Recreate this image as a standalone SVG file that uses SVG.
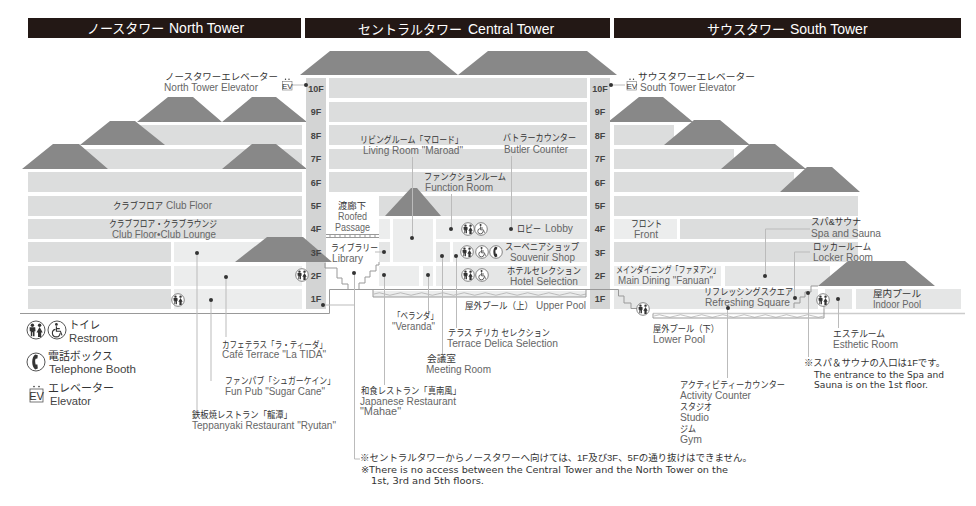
<svg xmlns="http://www.w3.org/2000/svg" xmlns:xlink="http://www.w3.org/1999/xlink" width="976" height="506" viewBox="0 0 976 506">
<style>
text{font-family:"Liberation Sans","Noto Sans CJK JP",sans-serif;font-size:10px}
.j{fill:#333;font-size:9.500px}
.e{fill:#666}
.h{fill:#fff;font-size:14px}
.hj{font-size:13px}
.f{fill:#444;font-size:9px;font-weight:bold;text-anchor:middle}
.lg{fill:#333;font-size:11px}
.lge{fill:#444;font-size:11.500px}
.n{fill:#333;font-size:9.500px}
.ne{fill:#333;font-size:9px;font-family:"DejaVu Sans",sans-serif}
.r{fill:#dcdddd}
.l{fill:#eceded}
.m{fill:#e5e6e6}
.c{fill:#d3d4d4}
.roof{fill:#888}
.lead{fill:none;stroke:#bbb;stroke-width:1}
.struct{fill:none;stroke:#999;stroke-width:1}
.dot{fill:#333}
</style>
<defs>
<g id="wc"><circle r="9" fill="#fff" stroke="#555" stroke-width="1"/><circle cx="-3.600" cy="-4.800" r="1.700" fill="#333"/><path d="M-6.400-2.800h5.600l.3 4-1 0v5h-1.500v-4h-.7v4h-1.500v-5l-1 0z" fill="#333"/><circle cx="3.600" cy="-4.800" r="1.700" fill="#333"/><path d="M3.600-3 6.700 2.400H5.200V7H2V2.400H.5z" fill="#333"/></g>
<g id="ac"><circle r="9" fill="#fff" stroke="#555" stroke-width="1"/><circle cx="-.6" cy="-5.600" r="1.400" fill="#333"/><path d="M-.6-3.800V1.200H3.400L5 5.400M-1.600-.6A3.800 3.800 0 1 0 3 3.200M-.6-1.400H2.800" fill="none" stroke="#333" stroke-width="1.100"/></g>
<g id="tel"><circle r="9" fill="#fff" stroke="#555" stroke-width="1"/><path d="M-.8-7.400C-4.800-5-4.800 5-.8 7.400L1.800 6.600 1.400 2.600-.4 2.400C-1-.8-1-1.800-.4-3.200L1.400-3.400 1.800-6.800z" fill="#333"/></g>
<g id="ev"><rect x="0" y="0" width="13" height="13" fill="#fff" stroke="#555" stroke-width=".8"/><text x="6.500" y="10.500" text-anchor="middle" style="font-size:11px;fill:#333">EV</text><circle cx="4" cy="-2.400" r=".8" fill="#333"/><circle cx="9" cy="-2.400" r=".8" fill="#333"/></g>
<g id="evs"><rect x="0" y="0" width="9.500" height="8.500" fill="#fff" stroke="#777" stroke-width=".6"/><text x="4.750" y="7.300" text-anchor="middle" style="font-size:8px;fill:#333">EV</text><circle cx="3" cy="-2.200" r=".7" fill="#333"/><circle cx="6.500" cy="-2.200" r=".7" fill="#333"/></g>
</defs>

<g id="headers">
<rect x="28" y="18" width="273" height="20" fill="#231815"/>
<rect x="305" y="18" width="305" height="20" fill="#231815"/>
<rect x="614" y="18" width="347" height="20" fill="#231815"/>
<text class="h" y="33"><tspan class="hj" x="87">ノースタワー</tspan><tspan x="169">North Tower</tspan></text>
<text class="h" y="34"><tspan class="hj" x="358">セントラルタワー</tspan><tspan x="468">Central Tower</tspan></text>
<text class="h" y="34"><tspan class="hj" x="707">サウスタワー</tspan><tspan x="790">South Tower</tspan></text>
</g>

<g id="north-tower">
<rect class="r" x="137" y="125" width="165" height="20"/>
<rect class="r" x="80" y="149" width="222" height="20"/>
<rect class="r" x="28" y="172" width="274" height="20"/>
<rect class="r" x="28" y="196" width="274" height="20"/>
<rect class="r" x="28" y="219" width="274" height="20"/>
<rect class="r" x="28" y="242" width="143" height="20"/>
<rect class="r" x="28" y="266" width="143" height="20"/>
<rect class="r" x="28" y="289" width="143" height="20"/>
<rect class="l" x="174" y="242" width="128" height="20"/>
<rect class="l" x="174" y="266" width="128" height="20"/>
<rect class="l" x="174" y="289" width="128" height="20"/>
<path class="roof" d="M137 122 168 97H193L222 122ZM222 122 252 97H276L307 122ZM80 145 110 121H135L165 145ZM22 169 53 144H79L108 169ZM222 169 252 144H276L307 169Z"/>
</g>

<g id="central-tower">
<rect class="r" x="329" y="78" width="258" height="20"/>
<rect class="r" x="329" y="102" width="258" height="20"/>
<rect class="r" x="329" y="125" width="258" height="20"/>
<rect class="r" x="329" y="149" width="258" height="20"/>
<rect class="r" x="329" y="172" width="258" height="20"/>
<rect class="r" x="379" y="196" width="208" height="20"/>
<rect class="l" x="379" y="219" width="11" height="20"/>
<rect class="l" x="393" y="219" width="40" height="43"/>
<rect class="l" x="436" y="219" width="34" height="20"/>
<rect class="m" x="470" y="219" width="117" height="20"/>
<rect class="m" x="379" y="242" width="11" height="20"/>
<rect class="m" x="436" y="242" width="14" height="20"/>
<rect class="l" x="453" y="242" width="17" height="20"/>
<rect class="m" x="470" y="242" width="117" height="20"/>
<rect class="l" x="379" y="266" width="40" height="20"/>
<rect class="l" x="423" y="266" width="10" height="20"/>
<rect class="l" x="436" y="266" width="34" height="20"/>
<rect class="m" x="470" y="266" width="117" height="20"/>
<rect class="l" x="373" y="291" width="213" height="6"/>
<path class="roof" d="M300 75 330 51H429L458 75ZM458 75 488 51H587L617 75ZM385 216 411 188H417L441 216Z"/>
</g>

<g id="south-tower">
<rect class="r" x="614" y="125" width="60" height="20"/>
<rect class="r" x="614" y="149" width="120" height="20"/>
<rect class="r" x="614" y="172" width="180" height="20"/>
<rect class="r" x="614" y="196" width="244" height="20"/>
<rect class="l" x="614" y="219" width="63" height="20"/>
<rect class="r" x="680" y="219" width="178" height="20"/>
<rect class="r" x="614" y="242" width="244" height="20"/>
<rect class="l" x="614" y="266" width="107" height="20"/>
<rect class="m" x="725" y="266" width="105" height="20"/>
<rect class="m" x="614" y="289" width="204" height="20"/>
<rect class="m" x="825" y="289" width="27" height="20"/>
<rect class="m" x="856" y="289" width="105" height="20"/>
<path class="roof" d="M608 122 639 97H663L693 122ZM664 145 694 120H720L750 145ZM721 169 750 144H775L806 169ZM780 192 807 167H832L860 192ZM818 286 848 261H905L935 286Z"/>
</g>

<g id="elevator-columns">
<rect class="c" x="306" y="78" width="20" height="231"/>
<rect class="c" x="590" y="78" width="20" height="231"/>
<path class="roof" d="M235 262 267 237H303L332 262Z"/>
<g id="floors-north">
<text class="f" x="316" y="92">10F</text><text class="f" x="316" y="115">9F</text><text class="f" x="316" y="139">8F</text><text class="f" x="316" y="162">7F</text><text class="f" x="316" y="186">6F</text><text class="f" x="316" y="209">5F</text><text class="f" x="316" y="232">4F</text><text class="f" x="316" y="256">3F</text><text class="f" x="316" y="279">2F</text><text class="f" x="316" y="302">1F</text>
</g>
<g id="floors-south">
<text class="f" x="600" y="92">10F</text><text class="f" x="600" y="115">9F</text><text class="f" x="600" y="139">8F</text><text class="f" x="600" y="162">7F</text><text class="f" x="600" y="186">6F</text><text class="f" x="600" y="209">5F</text><text class="f" x="600" y="232">4F</text><text class="f" x="600" y="256">3F</text><text class="f" x="600" y="279">2F</text><text class="f" x="600" y="302">1F</text>
</g>
</g>

<g id="structure">
<path class="struct" d="M20 313.500H329.500V289.500H618.500V296H624V303H631V308.500H640"/>
<path d="M653 313.500H965" fill="none" stroke="#ccc" stroke-width="1.500"/>
<path class="struct" d="M326 234.500H379M326 237.500H379M330 234.500v3M335 234.500v3M340 234.500v3M345 234.500v3M350 234.500v3M355 234.500v3M360 234.500v3M365 234.500v3M370 234.500v3M375 234.500v3" stroke-width=".7"/>
<path class="struct" d="M325 263V268H337V278H342V284H348V289M359 289V283H365V277H370V271H376V265H379V262"/>
<path class="struct" d="M794 308V303H800V297H805V292H811V286H818"/>
<path class="struct" d="M373 289.500V297H586V289.500"/>
<path d="M374 294q5.300-2.500 10.600 0t10.600 0 10.600 0 10.600 0 10.600 0 10.600 0 10.600 0 10.600 0 10.600 0 10.600 0 10.600 0 10.600 0 10.600 0 10.600 0 10.600 0 10.600 0 10.600 0 10.600 0 10.600 0 10.600 0" fill="none" stroke="#999" stroke-width=".6"/>
<path class="struct" d="M653 313.500V318H824V300"/>
<path d="M654 316q5.300-2.500 10.600 0t10.600 0 10.600 0 10.600 0 10.600 0 10.600 0 10.600 0 10.600 0 10.600 0 10.600 0 10.600 0 10.600 0 10.600 0 10.600 0 10.600 0 10.600 0" fill="none" stroke="#999" stroke-width=".6"/>
</g>

<g id="connectors">
<path class="lead" d="M197 253V410M226 277V337M211 300V381"/>
<path class="lead" d="M292 85H306M611 85H625"/>
<path class="lead" d="M412.500 157V238M511.500 156V229M451.500 194V229M375 252H384"/>
<path class="lead" d="M354.500 273V459H360M323 305H354"/>
<path class="lead" d="M384.500 275V385M428.500 275V313M442.500 256V355M456.500 256V328"/>
<path class="lead" d="M810 229H765.500V276M810 252H794.500V298"/>
<path class="lead" d="M727.500 308V378M808.500 293V357M838.500 299V328"/>
<g class="dot">
<circle cx="197" cy="253" r="2"/><circle cx="226" cy="277" r="2"/><circle cx="211" cy="300" r="2"/>
<circle cx="306" cy="85" r="2"/><circle cx="611" cy="85" r="2"/><circle cx="323" cy="305" r="2"/>
<circle cx="412" cy="238" r="2"/><circle cx="511" cy="229" r="2"/><circle cx="451" cy="229" r="2"/><circle cx="384" cy="252" r="2"/>
<circle cx="354" cy="273" r="2"/><circle cx="384" cy="275" r="2"/><circle cx="428" cy="275" r="2"/><circle cx="442" cy="256" r="2"/><circle cx="456" cy="256" r="2"/>
<circle cx="765" cy="276" r="2"/><circle cx="795" cy="298" r="2"/><circle cx="728" cy="308" r="2"/><circle cx="808" cy="293" r="2"/><circle cx="838" cy="299" r="2"/>
</g>
</g>

<g id="icons">
<use xlink:href="#wc" transform="translate(178 300) scale(.7)"/>
<use xlink:href="#wc" transform="translate(302 275) scale(.7)"/>
<use xlink:href="#wc" transform="translate(468 229) scale(.7)"/>
<use xlink:href="#ac" transform="translate(481 229) scale(.7)"/>
<use xlink:href="#wc" transform="translate(467 252) scale(.7)"/>
<use xlink:href="#ac" transform="translate(482 252) scale(.7)"/>
<use xlink:href="#tel" transform="translate(496 252) scale(.7)"/>
<use xlink:href="#wc" transform="translate(468 275) scale(.7)"/>
<use xlink:href="#ac" transform="translate(482 275) scale(.7)"/>
<use xlink:href="#wc" transform="translate(643 309) scale(.7)"/>
<use xlink:href="#wc" transform="translate(823 300) scale(.7)"/>
<use xlink:href="#evs" transform="translate(282.500 81.500)"/>
<use xlink:href="#evs" transform="translate(627 81.500)"/>
</g>

<g id="legend">
<use xlink:href="#wc" transform="translate(36 330)"/>
<use xlink:href="#ac" transform="translate(57 330)"/>
<use xlink:href="#tel" transform="translate(36 362)"/>
<use xlink:href="#ev" transform="translate(30 389)"/>
<text class="lg" x="69" y="329" textLength="31" lengthAdjust="spacingAndGlyphs">トイレ</text>
<text class="lge" x="69" y="342" textLength="49" lengthAdjust="spacingAndGlyphs">Restroom</text>
<text class="lg" x="48" y="360" textLength="65" lengthAdjust="spacingAndGlyphs">電話ボックス</text>
<text class="lge" x="49" y="373" textLength="87" lengthAdjust="spacingAndGlyphs">Telephone Booth</text>
<text class="lg" x="48" y="392" textLength="66" lengthAdjust="spacingAndGlyphs">エレベーター</text>
<text class="lge" x="50" y="405" textLength="41" lengthAdjust="spacingAndGlyphs">Elevator</text>
</g>

<g id="north-labels">
<text class="j" x="165" y="80" textLength="113" lengthAdjust="spacingAndGlyphs">ノースタワーエレベーター</text>
<text class="e" x="164" y="91" textLength="94" lengthAdjust="spacingAndGlyphs">North Tower Elevator</text>
<text class="j" x="113" y="209" textLength="50" lengthAdjust="spacingAndGlyphs">クラブフロア</text>
<text class="e" x="166" y="209" textLength="46" lengthAdjust="spacingAndGlyphs">Club Floor</text>
<text class="j" x="109" y="227" textLength="108" lengthAdjust="spacingAndGlyphs">クラブフロア・クラブラウンジ</text>
<text class="e" x="112" y="238" textLength="104" lengthAdjust="spacingAndGlyphs">Club Floor•Club Lounge</text>
<text class="j" x="222" y="348" textLength="105" lengthAdjust="spacingAndGlyphs">カフェテラス「ラ・ティーダ」</text>
<text class="e" x="222" y="358" textLength="104" lengthAdjust="spacingAndGlyphs">Café Terrace "La TIDA"</text>
<text class="j" x="225" y="384" textLength="110" lengthAdjust="spacingAndGlyphs">ファンパブ「シュガーケイン」</text>
<text class="e" x="225" y="395" textLength="100" lengthAdjust="spacingAndGlyphs">Fun Pub "Sugar Cane"</text>
<text class="j" x="192" y="418" textLength="100" lengthAdjust="spacingAndGlyphs">鉄板焼レストラン「龍潭」</text>
<text class="e" x="192" y="429" textLength="144" lengthAdjust="spacingAndGlyphs">Teppanyaki Restaurant "Ryutan"</text>
</g>

<g id="central-labels">
<text class="j" x="360" y="143" textLength="103" lengthAdjust="spacingAndGlyphs">リビングルーム「マロード」</text>
<text class="e" x="363" y="154" textLength="100" lengthAdjust="spacingAndGlyphs">Living Room "Maroad"</text>
<text class="j" x="503" y="141" textLength="73" lengthAdjust="spacingAndGlyphs">バトラーカウンター</text>
<text class="e" x="504" y="153" textLength="64" lengthAdjust="spacingAndGlyphs">Butler Counter</text>
<text class="j" x="424" y="180" textLength="82" lengthAdjust="spacingAndGlyphs">ファンクションルーム</text>
<text class="e" x="425" y="191" textLength="68" lengthAdjust="spacingAndGlyphs">Function Room</text>
<text class="j" x="338" y="209" textLength="28" lengthAdjust="spacingAndGlyphs">渡廊下</text>
<text class="e" x="338" y="220" textLength="29" lengthAdjust="spacingAndGlyphs">Roofed</text>
<text class="e" x="335" y="231" textLength="35" lengthAdjust="spacingAndGlyphs">Passage</text>
<text class="j" x="331" y="251" textLength="47" lengthAdjust="spacingAndGlyphs">ライブラリー</text>
<text class="e" x="332" y="262" textLength="31" lengthAdjust="spacingAndGlyphs">Library</text>
<text class="j" x="517" y="232" textLength="24" lengthAdjust="spacingAndGlyphs">ロビー</text>
<text class="e" x="545" y="232" textLength="28" lengthAdjust="spacingAndGlyphs">Lobby</text>
<text class="j" x="505" y="250" textLength="74" lengthAdjust="spacingAndGlyphs">スーベニアショップ</text>
<text class="e" x="510" y="261" textLength="65" lengthAdjust="spacingAndGlyphs">Souvenir Shop</text>
<text class="j" x="507" y="274" textLength="74" lengthAdjust="spacingAndGlyphs">ホテルセレクション</text>
<text class="e" x="510" y="285" textLength="68" lengthAdjust="spacingAndGlyphs">Hotel Selection</text>
<text class="j" x="465" y="309" textLength="68" lengthAdjust="spacingAndGlyphs">屋外プール（上）</text>
<text class="e" x="536" y="309" textLength="50" lengthAdjust="spacingAndGlyphs">Upper Pool</text>
<text class="j" x="393" y="319" textLength="45" lengthAdjust="spacingAndGlyphs">「ベランダ」</text>
<text class="e" x="392" y="330" textLength="43" lengthAdjust="spacingAndGlyphs">"Veranda"</text>
<text class="j" x="448" y="336" textLength="102" lengthAdjust="spacingAndGlyphs">テラス デリカ セレクション</text>
<text class="e" x="447" y="347" textLength="111" lengthAdjust="spacingAndGlyphs">Terrace Delica Selection</text>
<text class="j" x="427" y="362" textLength="29" lengthAdjust="spacingAndGlyphs">会議室</text>
<text class="e" x="426" y="373" textLength="65" lengthAdjust="spacingAndGlyphs">Meeting Room</text>
<text class="j" x="361" y="394" textLength="100" lengthAdjust="spacingAndGlyphs">和食レストラン「真南風」</text>
<text class="e" x="360" y="405" textLength="96" lengthAdjust="spacingAndGlyphs">Japanese Restaurant</text>
<text class="e" x="360" y="415" textLength="41" lengthAdjust="spacingAndGlyphs">"Mahae"</text>
<text class="n" x="360" y="461" textLength="392" lengthAdjust="spacingAndGlyphs">※セントラルタワーからノースタワーへ向けては、1F及び3F、5Fの通り抜けはできません。</text>
<text class="ne" x="361" y="473" textLength="367" lengthAdjust="spacingAndGlyphs">※There is no access between the Central Tower and the North Tower on the</text>
<text class="ne" x="371" y="484" textLength="113" lengthAdjust="spacingAndGlyphs">1st, 3rd and 5th floors.</text>
</g>

<g id="south-labels">
<text class="j" x="638" y="80" textLength="117" lengthAdjust="spacingAndGlyphs">サウスタワーエレベーター</text>
<text class="e" x="640" y="91" textLength="96" lengthAdjust="spacingAndGlyphs">South Tower Elevator</text>
<text class="j" x="631" y="227" textLength="31" lengthAdjust="spacingAndGlyphs">フロント</text>
<text class="e" x="634" y="238" textLength="24" lengthAdjust="spacingAndGlyphs">Front</text>
<text class="j" x="811" y="225" textLength="50" lengthAdjust="spacingAndGlyphs">スパ&amp;サウナ</text>
<text class="e" x="811" y="237" textLength="70" lengthAdjust="spacingAndGlyphs">Spa and Sauna</text>
<text class="j" x="813" y="250" textLength="58" lengthAdjust="spacingAndGlyphs">ロッカールーム</text>
<text class="e" x="813" y="261" textLength="60" lengthAdjust="spacingAndGlyphs">Locker Room</text>
<text class="j" x="616" y="273" textLength="104" lengthAdjust="spacingAndGlyphs">メインダイニング「ファヌアン」</text>
<text class="e" x="618" y="284" textLength="95" lengthAdjust="spacingAndGlyphs">Main Dining "Fanuan"</text>
<text class="j" x="704" y="295" textLength="89" lengthAdjust="spacingAndGlyphs">リフレッシングスクエア</text>
<text class="e" x="705" y="306" textLength="85" lengthAdjust="spacingAndGlyphs">Refreshing Square</text>
<text class="j" x="873" y="297" textLength="48" lengthAdjust="spacingAndGlyphs">屋内プール</text>
<text class="e" x="873" y="308" textLength="48" lengthAdjust="spacingAndGlyphs">Indoor Pool</text>
<text class="j" x="653" y="332" textLength="66" lengthAdjust="spacingAndGlyphs">屋外プール（下）</text>
<text class="e" x="653" y="343" textLength="52" lengthAdjust="spacingAndGlyphs">Lower  Pool</text>
<text class="j" x="833" y="337" textLength="52" lengthAdjust="spacingAndGlyphs">エステルーム</text>
<text class="e" x="833" y="348" textLength="65" lengthAdjust="spacingAndGlyphs">Esthetic Room</text>
<text class="n" x="804" y="366" textLength="141" lengthAdjust="spacingAndGlyphs">※スパ＆サウナの入口は1Fです。</text>
<text class="ne" x="814" y="378" textLength="130" lengthAdjust="spacingAndGlyphs">The entrance to the Spa and</text>
<text class="ne" x="814" y="388" textLength="114" lengthAdjust="spacingAndGlyphs">Sauna is on the 1st floor.</text>
<text class="j" x="680" y="388" textLength="105" lengthAdjust="spacingAndGlyphs">アクティビティーカウンター</text>
<text class="e" x="680" y="399" textLength="71" lengthAdjust="spacingAndGlyphs">Activity Counter</text>
<text class="j" x="680" y="410" textLength="32" lengthAdjust="spacingAndGlyphs">スタジオ</text>
<text class="e" x="680" y="421" textLength="29" lengthAdjust="spacingAndGlyphs">Studio</text>
<text class="j" x="680" y="432" textLength="16" lengthAdjust="spacingAndGlyphs">ジム</text>
<text class="e" x="680" y="443" textLength="22" lengthAdjust="spacingAndGlyphs">Gym</text>
</g>
</svg>
